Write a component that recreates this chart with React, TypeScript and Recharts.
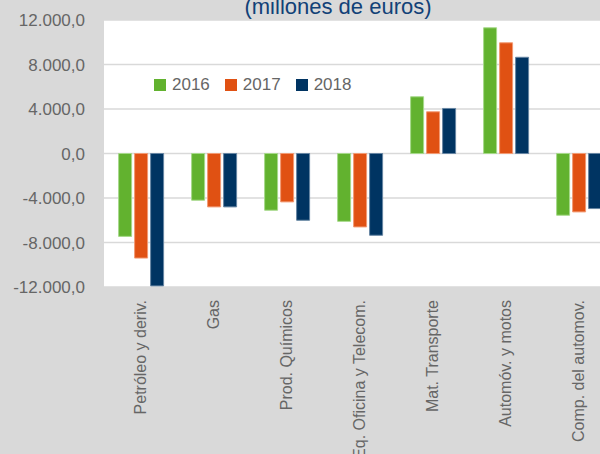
import React from "react";
import { BarChart, Bar, XAxis, YAxis, CartesianGrid } from "recharts";

const categories = [
  "Petróleo y deriv.",
  "Gas",
  "Prod. Químicos",
  "Eq. Oficina y Telecom.",
  "Mat. Transporte",
  "Automóv. y motos",
  "Comp. del automov.",
];
const values2016 = [-7450, -4200, -5100, -6100, 5100, 11300, -5550];
const values2017 = [-9400, -4800, -4350, -6600, 3750, 9950, -5250];
const values2018 = [-11900, -4800, -6000, -7350, 4050, 8650, -4950];
const yTicks = [-12000, -8000, -4000, 0, 4000, 8000, 12000];

const SERIES = [
  { key: "2016", fill: "#62B22F", stroke: "#A6D98A" },
  { key: "2017", fill: "#E05113", stroke: "#F29A73" },
  { key: "2018", fill: "#003462", stroke: "#6685A3" },
];

const data = categories.map((name, i) => ({
  name,
  "2016": values2016[i],
  "2017": values2017[i],
  "2018": values2018[i],
}));

const FONT = "'Liberation Sans', Arial, sans-serif";

function fmt(v: number) {
  const parts = Math.abs(v).toFixed(1).split(".");
  const int = parts[0].replace(/\B(?=(\d{3})+(?!\d))/g, ".");
  return (v < 0 ? "-" : "") + int + "," + parts[1];
}

function XTick(props: any) {
  const { x, y, payload } = props;
  return (
    <text
      x={x}
      y={y + 5}
      transform={`rotate(-90, ${x}, ${y + 5})`}
      textAnchor="end"
      dy="0.35em"
      fill="#666"
      fontSize={16}
      fontFamily={FONT}
    >
      {payload.value}
    </text>
  );
}

function LegendBox() {
  return (
    <div
      style={{
        position: "absolute",
        left: 154,
        top: 75,
        height: 20,
        display: "flex",
        alignItems: "center",
        fontFamily: FONT,
        fontSize: 17,
        color: "#666",
      }}
    >
      {SERIES.map((s) => (
        <div key={s.key} style={{ display: "flex", alignItems: "center", marginRight: 15 }}>
          <span style={{ width: 12, height: 12, background: s.fill, display: "inline-block", marginRight: 6 }} />
          <span>{s.key}</span>
        </div>
      ))}
    </div>
  );
}

export default function App() {
  return (
    <div
      style={{
        position: "absolute",
        left: 0,
        top: 0,
        width: 600,
        height: 454,
        overflow: "hidden",
        background: "#D9D9D9",
      }}
    >
      <BarChart
        width={615}
        height={454}
        data={data}
        margin={{ top: 20, right: 0, bottom: 0, left: 0 }}
        barCategoryGap="20%"
        barGap={3}
      >
        <CartesianGrid vertical={false} stroke="#D9D9D9" strokeWidth={1.5} fill="#FFFFFF" />
        <XAxis
          dataKey="name"
          height={167}
          axisLine={false}
          tickLine={false}
          interval={0}
          tick={<XTick />}
        />
        <YAxis
          width={104}
          domain={[-12000, 12000]}
          ticks={yTicks}
          tickFormatter={fmt}
          axisLine={false}
          tickLine={false}
          tickMargin={13}
          tick={{ fill: "#666", fontSize: 17, fontFamily: FONT }}
        />
        {SERIES.map((s) => (
          <Bar
            key={s.key}
            dataKey={s.key}
            fill={s.fill}
            stroke={s.stroke}
            strokeWidth={1}
            isAnimationActive={false}
          />
        ))}
      </BarChart>
      <div
        style={{
          position: "absolute",
          left: 338,
          top: -6,
          transform: "translateX(-50%)",
          whiteSpace: "nowrap",
          fontFamily: FONT,
          fontSize: 22,
          color: "#114177",
        }}
      >
        (millones de euros)
      </div>
      <LegendBox />
    </div>
  );
}
